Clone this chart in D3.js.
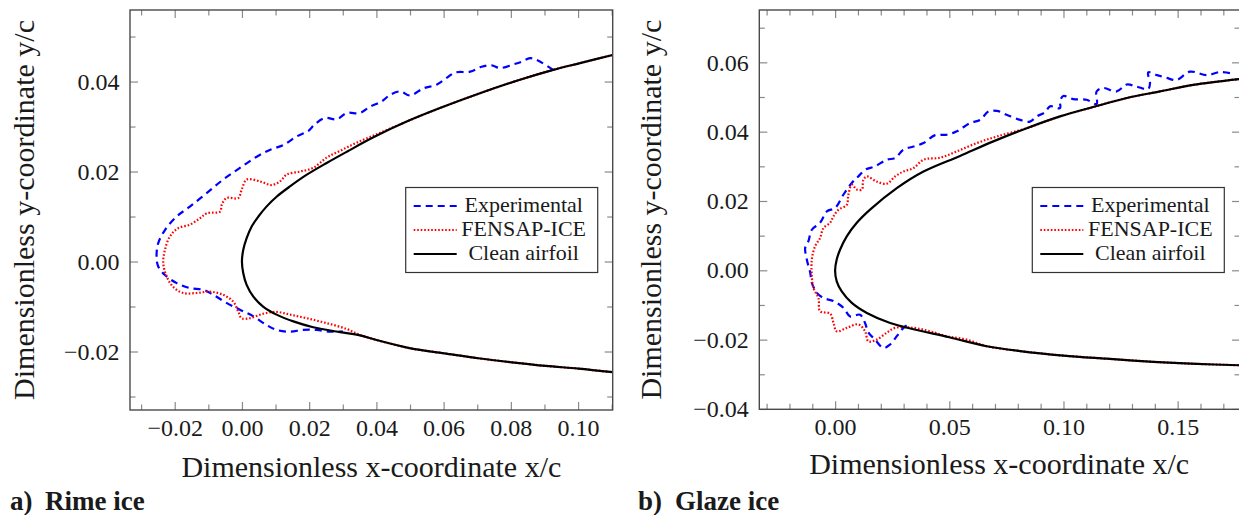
<!DOCTYPE html>
<html>
<head>
<meta charset="utf-8">
<script src="https://cdn.jsdelivr.net/npm/d3@7"></script>
<style>
  body { margin: 0; background: #fff; }
  svg text { font-family: "Liberation Serif", "Times New Roman", serif; fill: #1a1a1a; }
</style>
</head>
<body>
<div id="chart"></div>
<script>
// ---- data: a) rime ice  [x/c, y/c]
const rimeClean = [
  [0.1103, 0.0459], [0.1006, 0.0441], [0.0926, 0.0426], [0.0827, 0.0404], [0.0708, 0.0374],
  [0.0589, 0.0341], [0.0490, 0.0311], [0.0391, 0.0276], [0.0312, 0.0244], [0.0252, 0.0219],
  [0.0193, 0.0193], [0.0143, 0.0167], [0.0103, 0.0144], [0.0073, 0.0122], [0.0049, 0.0100],
  [0.0029, 0.0078], [0.0014, 0.0052], [0.0004, 0.0026], [0.0000, 0.0000], [0.0004, -0.0026],
  [0.0014, -0.0052], [0.0034, -0.0078], [0.0063, -0.0100], [0.0103, -0.0118], [0.0153, -0.0133],
  [0.0212, -0.0146], [0.0292, -0.0157], [0.0351, -0.0164], [0.0403, -0.0175], [0.0502, -0.0193],
  [0.0602, -0.0204], [0.0703, -0.0215], [0.0803, -0.0224], [0.0904, -0.0232], [0.1001, -0.0238],
  [0.1103, -0.0246]
];
const rimeExperimental = [
  [0.0926, 0.0426], [0.0877, 0.0448], [0.0857, 0.0452], [0.0832, 0.0444], [0.0807, 0.0438],
  [0.0768, 0.0430], [0.0743, 0.0436], [0.0713, 0.0433], [0.0679, 0.0422], [0.0634, 0.0420],
  [0.0609, 0.0408], [0.0579, 0.0393], [0.0540, 0.0385], [0.0500, 0.0369], [0.0470, 0.0378],
  [0.0440, 0.0370], [0.0416, 0.0356], [0.0381, 0.0344], [0.0351, 0.0330], [0.0312, 0.0330],
  [0.0282, 0.0316], [0.0247, 0.0319], [0.0217, 0.0305], [0.0197, 0.0290], [0.0163, 0.0278],
  [0.0123, 0.0259], [0.0083, 0.0248], [0.0044, 0.0233], [-0.0006, 0.0208], [-0.0056, 0.0182],
  [-0.0105, 0.0152], [-0.0155, 0.0122], [-0.0194, 0.0100], [-0.0229, 0.0070], [-0.0249, 0.0041],
  [-0.0254, 0.0011], [-0.0249, -0.0011], [-0.0229, -0.0030], [-0.0194, -0.0048], [-0.0155, -0.0059],
  [-0.0115, -0.0063], [-0.0085, -0.0074], [-0.0046, -0.0092], [-0.0006, -0.0107], [0.0034, -0.0122],
  [0.0073, -0.0141], [0.0103, -0.0152], [0.0143, -0.0156], [0.0182, -0.0152], [0.0222, -0.0152],
  [0.0262, -0.0156], [0.0300, -0.0155]
];
const rimeFensap = [
  [0.1103, 0.0459], [0.1006, 0.0441], [0.0926, 0.0426], [0.0827, 0.0404], [0.0708, 0.0374],
  [0.0589, 0.0341], [0.0490, 0.0311], [0.0411, 0.0286], [0.0341, 0.0264], [0.0292, 0.0246],
  [0.0252, 0.0231], [0.0212, 0.0208], [0.0173, 0.0200], [0.0133, 0.0193], [0.0113, 0.0178],
  [0.0088, 0.0170], [0.0054, 0.0178], [0.0014, 0.0182], [-0.0001, 0.0159], [-0.0011, 0.0141],
  [-0.0046, 0.0141], [-0.0060, 0.0126], [-0.0065, 0.0111], [-0.0105, 0.0107], [-0.0125, 0.0096],
  [-0.0155, 0.0082], [-0.0190, 0.0074], [-0.0214, 0.0056], [-0.0229, 0.0026], [-0.0234, -0.0004],
  [-0.0224, -0.0033], [-0.0205, -0.0056], [-0.0175, -0.0070], [-0.0135, -0.0070], [-0.0095, -0.0067],
  [-0.0056, -0.0074], [-0.0026, -0.0089], [-0.0011, -0.0111], [-0.0001, -0.0126], [0.0024, -0.0126],
  [0.0063, -0.0116], [0.0103, -0.0112], [0.0143, -0.0118], [0.0193, -0.0126], [0.0252, -0.0137],
  [0.0312, -0.0150], [0.0351, -0.0163], [0.0403, -0.0175], [0.0502, -0.0193], [0.0602, -0.0204],
  [0.0703, -0.0215], [0.0803, -0.0224], [0.0904, -0.0232], [0.1001, -0.0238], [0.1103, -0.0246]
];

// ---- data: b) glaze ice
const glazeClean = [
  [0.1773, 0.0552], [0.1568, 0.0535], [0.1422, 0.0516], [0.1277, 0.0497], [0.1130, 0.0471],
  [0.0985, 0.0444], [0.0839, 0.0410], [0.0693, 0.0372], [0.0547, 0.0330], [0.0387, 0.0285],
  [0.0270, 0.0237], [0.0153, 0.0175], [0.0095, 0.0137], [0.0051, 0.0098], [0.0022, 0.0060],
  [0.0007, 0.0031], [0.0000, 0.0000], [0.0007, -0.0032], [0.0029, -0.0061], [0.0073, -0.0094],
  [0.0139, -0.0123], [0.0241, -0.0152], [0.0343, -0.0170], [0.0500, -0.0193], [0.0664, -0.0219],
  [0.0810, -0.0233], [0.0999, -0.0246], [0.1189, -0.0255], [0.1393, -0.0264], [0.1583, -0.0270],
  [0.1773, -0.0274]
];
const glazeExperimental = [
  [0.1729, 0.0569], [0.1685, 0.0572], [0.1627, 0.0563], [0.1554, 0.0573], [0.1495, 0.0549],
  [0.1452, 0.0555], [0.1410, 0.0563], [0.1371, 0.0571], [0.1379, 0.0540], [0.1371, 0.0523],
  [0.1320, 0.0530], [0.1277, 0.0536], [0.1233, 0.0516], [0.1174, 0.0526], [0.1145, 0.0516],
  [0.1145, 0.0480], [0.1101, 0.0492], [0.1043, 0.0494], [0.0999, 0.0503], [0.0985, 0.0487],
  [0.0985, 0.0468], [0.0941, 0.0473], [0.0919, 0.0456], [0.0883, 0.0444], [0.0853, 0.0429],
  [0.0810, 0.0434], [0.0751, 0.0449], [0.0708, 0.0460], [0.0671, 0.0458], [0.0635, 0.0434],
  [0.0591, 0.0425], [0.0533, 0.0401], [0.0489, 0.0391], [0.0438, 0.0390], [0.0387, 0.0367],
  [0.0343, 0.0357], [0.0299, 0.0348], [0.0263, 0.0324], [0.0226, 0.0319], [0.0175, 0.0300],
  [0.0131, 0.0290], [0.0102, 0.0271], [0.0073, 0.0252], [0.0036, 0.0218], [0.0000, 0.0180],
  [-0.0036, 0.0170], [-0.0066, 0.0137], [-0.0102, 0.0117], [-0.0117, 0.0084], [-0.0131, 0.0065],
  [-0.0124, 0.0031], [-0.0109, -0.0007], [-0.0102, -0.0036], [-0.0080, -0.0065], [-0.0051, -0.0080],
  [-0.0007, -0.0089], [0.0036, -0.0108], [0.0066, -0.0133], [0.0109, -0.0128], [0.0131, -0.0152],
  [0.0146, -0.0180], [0.0175, -0.0200], [0.0211, -0.0224], [0.0241, -0.0214], [0.0270, -0.0190],
  [0.0299, -0.0166], [0.0321, -0.0156]
];
const glazeFensap = [
  [0.1773, 0.0552], [0.1568, 0.0535], [0.1422, 0.0516], [0.1277, 0.0497], [0.1130, 0.0471],
  [0.0985, 0.0444], [0.0839, 0.0410], [0.0708, 0.0386], [0.0620, 0.0367], [0.0533, 0.0343],
  [0.0460, 0.0325], [0.0387, 0.0319], [0.0343, 0.0295], [0.0299, 0.0285], [0.0263, 0.0271],
  [0.0226, 0.0250], [0.0182, 0.0256], [0.0139, 0.0271], [0.0124, 0.0261], [0.0117, 0.0233],
  [0.0095, 0.0233], [0.0073, 0.0247], [0.0058, 0.0218], [0.0051, 0.0189], [0.0015, 0.0175],
  [-0.0007, 0.0156], [-0.0022, 0.0137], [-0.0051, 0.0122], [-0.0066, 0.0093], [-0.0088, 0.0069],
  [-0.0102, 0.0031], [-0.0102, -0.0017], [-0.0095, -0.0051], [-0.0073, -0.0080], [-0.0066, -0.0118],
  [-0.0022, -0.0125], [-0.0007, -0.0152], [0.0007, -0.0176], [0.0051, -0.0166], [0.0102, -0.0156],
  [0.0131, -0.0176], [0.0146, -0.0205], [0.0182, -0.0200], [0.0226, -0.0180], [0.0263, -0.0166],
  [0.0343, -0.0166], [0.0416, -0.0176], [0.0489, -0.0190], [0.0576, -0.0200], [0.0664, -0.0219],
  [0.0810, -0.0233], [0.0999, -0.0246], [0.1189, -0.0255], [0.1393, -0.0264], [0.1583, -0.0270],
  [0.1773, -0.0274]
];

// ---- ticks
const rimeXTicks = [-0.02, 0, 0.02, 0.04, 0.06, 0.08, 0.10];
const rimeXMinor = [-0.03, -0.01, 0.01, 0.03, 0.05, 0.07, 0.09, 0.11];
const rimeYTicks = [-0.02, 0, 0.02, 0.04];
const rimeYMinor = [-0.03, -0.01, 0.01, 0.03, 0.05];
const glazeXTicks = [0, 0.05, 0.10, 0.15];
const glazeXMinor = [-0.03, -0.02, -0.01, 0.01, 0.02, 0.03, 0.04, 0.06, 0.07, 0.08, 0.09,
                     0.11, 0.12, 0.13, 0.14, 0.16, 0.17];
const glazeYTicks = [-0.04, -0.02, 0, 0.02, 0.04, 0.06];
const glazeYMinor = [-0.03, -0.01, 0.01, 0.03, 0.05, 0.07];

const legendNames = ["Experimental", "FENSAP-ICE", "Clean airfoil"];

// series styles (same order as legendNames)
const styles = [
  { color: "#0000ff", width: 2.2, dash: "7,5" },
  { color: "#ff0000", width: 2.2, dash: "1.6,1.9" },
  { color: "#000000", width: 2.2, dash: null }
];

const width = 1239, height = 515;
const svg = d3.select("#chart").append("svg")
  .attr("width", width)
  .attr("height", height);

const fmt = d3.format(".2f");

function drawPanel(p) {
  const x = d3.scaleLinear().domain(p.xDomain).range(p.xRange);
  const y = d3.scaleLinear().domain(p.yDomain).range(p.yRange);
  const left = p.xRange[0], right = p.xRange[1];
  const top = p.yRange[1], bottom = p.yRange[0];

  const g = svg.append("g");

  // clip
  g.append("clipPath").attr("id", "clip-" + p.id)
    .append("rect")
    .attr("x", left).attr("y", top)
    .attr("width", right - left).attr("height", bottom - top);

  // ticks on the four sides, pointing inwards
  const tickStyle = sel => {
    sel.select(".domain").remove();
    sel.selectAll(".tick line").attr("stroke", "#8a8a8a").attr("stroke-width", 1.2);
    sel.attr("font-family", null).attr("font-size", null);
  };
  const addAxis = (axis, tf, labels) => {
    const a = g.append("g").attr("transform", tf).call(axis).call(tickStyle);
    if (!labels) a.selectAll("text").remove();
    return a;
  };

  const bx = addAxis(d3.axisBottom(x).tickValues(p.xTicks).tickSize(-8).tickPadding(9).tickFormat(fmt),
    `translate(0,${bottom})`, true);
  addAxis(d3.axisBottom(x).tickValues(p.xMinor).tickSize(-5.5), `translate(0,${bottom})`, false);
  addAxis(d3.axisTop(x).tickValues(p.xTicks).tickSize(-8), `translate(0,${top})`, false);
  addAxis(d3.axisTop(x).tickValues(p.xMinor).tickSize(-5.5), `translate(0,${top})`, false);
  const ly = addAxis(d3.axisLeft(y).tickValues(p.yTicks).tickSize(-8).tickPadding(10.5).tickFormat(fmt),
    `translate(${left},0)`, true);
  addAxis(d3.axisLeft(y).tickValues(p.yMinor).tickSize(-5.5), `translate(${left},0)`, false);
  addAxis(d3.axisRight(y).tickValues(p.yTicks).tickSize(-8), `translate(${right},0)`, false);
  addAxis(d3.axisRight(y).tickValues(p.yMinor).tickSize(-5.5), `translate(${right},0)`, false);

  bx.selectAll("text").style("font-size", "24px").style("fill", "#1a1a1a");
  ly.selectAll("text").style("font-size", "24px").style("fill", "#1a1a1a");

  // series
  const line = d3.line()
    .x(d => x(d[0]))
    .y(d => y(d[1]))
    .curve(d3.curveCatmullRom.alpha(0.5));

  const plot = g.append("g").attr("clip-path", `url(#clip-${p.id})`);
  p.series.forEach((s, i) => {
    plot.append("path")
      .datum(s)
      .attr("fill", "none")
      .attr("stroke", styles[i].color)
      .attr("stroke-width", styles[i].width)
      .attr("stroke-dasharray", styles[i].dash)
      .attr("stroke-linejoin", "round")
      .attr("d", line);
  });

  // frame
  g.append("rect")
    .attr("x", left).attr("y", top)
    .attr("width", right - left).attr("height", bottom - top)
    .attr("fill", "none")
    .attr("stroke", "#4a4a4a")
    .attr("stroke-width", 1.4);

  // legend
  const lw = 192, lh = 85;
  const lx = right - p.legendRight - lw, ly0 = 187.5;
  const leg = g.append("g");
  leg.append("rect")
    .attr("x", lx).attr("y", ly0).attr("width", lw).attr("height", lh)
    .attr("fill", "#fff").attr("stroke", "#333").attr("stroke-width", 1.2);
  legendNames.forEach((name, i) => {
    const base = ly0 + 24 + i * 24;
    leg.append("line")
      .attr("x1", lx + 8).attr("x2", lx + 51)
      .attr("y1", base - 5.5).attr("y2", base - 5.5)
      .attr("stroke", styles[i].color)
      .attr("stroke-width", styles[i].width)
      .attr("stroke-dasharray", styles[i].dash);
    leg.append("text")
      .attr("x", lx + 118).attr("y", base)
      .attr("text-anchor", "middle")
      .style("font-size", "22px")
      .text(name);
  });

  // axis titles
  g.append("text")
    .attr("x", (left + Math.min(right, width)) / 2)
    .attr("y", p.xLabelY)
    .attr("text-anchor", "middle")
    .style("font-size", "30px")
    .text("Dimensionless x-coordinate x/c");

  g.append("text")
    .attr("transform", `translate(${p.yLabelX},${(top + bottom) / 2}) rotate(-90)`)
    .attr("text-anchor", "middle")
    .style("font-size", "30px")
    .text("Dimensionless y-coordinate y/c");

  // caption
  const cap = g.append("text")
    .attr("y", 510)
    .style("font-size", "27px")
    .style("font-weight", "bold");
  cap.append("tspan").attr("x", p.capX).text(p.capA);
  cap.append("tspan").attr("x", p.capX2).text(p.capB);
}

drawPanel({
  id: "rime",
  xDomain: [-0.0333, 0.1103], xRange: [130, 612.7],
  yDomain: [-0.0330, 0.0559], yRange: [410, 10],
  xTicks: rimeXTicks, xMinor: rimeXMinor, yTicks: rimeYTicks, yMinor: rimeYMinor,
  series: [rimeExperimental, rimeFensap, rimeClean],
  legendRight: 15,
  xLabelY: 477, yLabelX: 34,
  capX: 10, capX2: 45, capA: "a)", capB: "Rime ice"
});

drawPanel({
  id: "glaze",
  xDomain: [-0.0332, 0.1773], xRange: [759.3, 1240],
  yDomain: [-0.0401, 0.0751], yRange: [409.3, 10],
  xTicks: glazeXTicks, xMinor: glazeXMinor, yTicks: glazeYTicks, yMinor: glazeYMinor,
  series: [glazeExperimental, glazeFensap, glazeClean],
  legendRight: 15.7,
  xLabelY: 474, yLabelX: 661,
  capX: 638, capX2: 675, capA: "b)", capB: "Glaze ice"
});
</script>
</body>
</html>
